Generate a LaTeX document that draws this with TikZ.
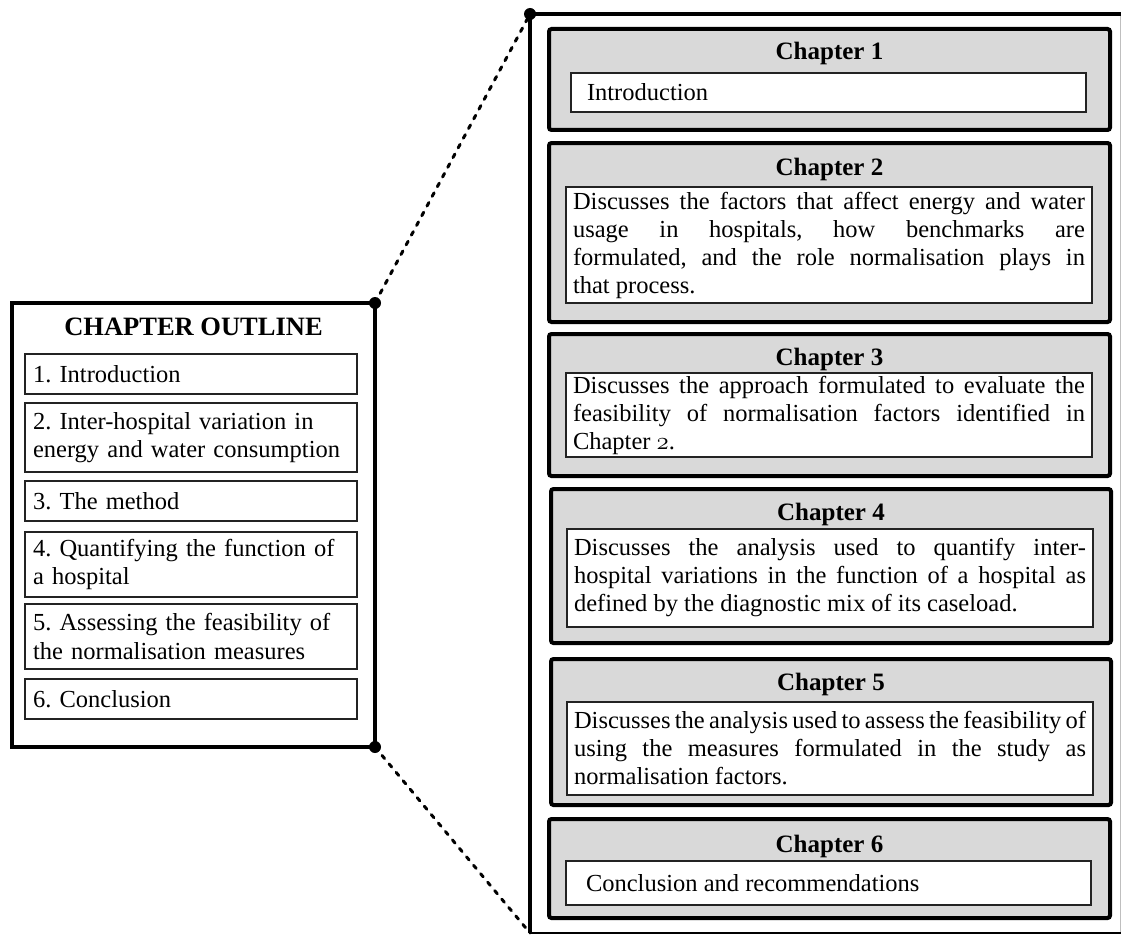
\documentclass[tikz,border=0pt]{standalone}
\usepackage{fontspec}
\setmainfont{Liberation Serif}
\definecolor{chapgray}{RGB}{217,217,217}
\definecolor{edgegray}{RGB}{35,35,35}
% old-style figure taken from the math italic font
\newcommand{\osnum}[1]{{\usefont{OML}{cmm}{m}{it}#1}}

\tikzset{
  bodyfont/.style={font=\fontsize{24.5}{28}\selectfont\frenchspacing},
  itemfont/.style={font=\fontsize{24.5}{28.5}\selectfont\frenchspacing},
  chapbox/.style={draw=black, fill=chapgray, line width=4pt, rounded corners=2.5pt,
    inner sep=0pt, outer sep=0pt},
  chaptitle/.style={font=\fontsize{25}{28}\selectfont\bfseries, anchor=base, inner sep=0pt},
  descbox/.style={draw=edgegray, fill=white, line width=1.4pt, bodyfont,
    inner ysep=0pt, outer sep=0pt, align=justify},
  itembox/.style={draw=edgegray, fill=white, line width=1.4pt, itemfont,
    inner ysep=0pt, inner xsep=8pt, text width=316pt, minimum width=332pt,
    align=left, outer sep=0pt},
  outlinebox/.style={draw=black, line width=4pt, inner sep=0pt, outer sep=0pt},
  bigdot/.style={circle, fill=black, inner sep=0pt, minimum size=12pt},
  zoomline/.style={line width=3pt, line cap=round, dash pattern=on 4pt off 7pt},
}

\begin{document}
\begin{tikzpicture}[x=1pt,y=-1pt]
\useasboundingbox (0,0) rectangle (1121,939);

% ---------- right-hand panel frame ----------
\coordinate (ptl) at (530,14);
\coordinate (ptr) at (1121,14);
\coordinate (pbl) at (530,933);
\coordinate (pbr) at (1121,933);
\coordinate (prt) at (1120,14);
\coordinate (prb) at (1120,933);
\draw[line width=1pt, black!25] (prt) -- (prb);
\draw[line width=4pt] (ptr) -- (ptl) -- (pbl);
\draw[line width=2pt] (pbl) -- (pbr);

% ---------- chapter outline (left) ----------
\node[outlinebox, minimum width=363pt, minimum height=444pt] (outline) at (193.5,525) {};
\node[font=\fontsize{26.5}{28}\selectfont\bfseries, anchor=base, inner sep=0pt]
  (otitle) at (193.5,335) {CHAPTER OUTLINE};
\node[itembox, minimum height=40pt] (l1) at (191,374) {1. Introduction};
\node[itembox, minimum height=69pt] (l2) at (191,437.5)
  {2. Inter-hospital variation in\\energy and water consumption};
\node[itembox, minimum height=40pt] (l3) at (191,501) {3. The method};
\node[itembox, minimum height=65pt] (l4) at (191,564.5)
  {4. Quantifying the function of\\a hospital};
\node[itembox, minimum height=65pt] (l5) at (191,636.5)
  {5. Assessing the feasibility of\\the normalisation measures};
\node[itembox, minimum height=40pt] (l6) at (191,699) {6. Conclusion};

% ---------- connectors ----------
\node[bigdot] (pdot) at (ptl) {};
\node[bigdot] (odotA) at (outline.north east) {};
\node[bigdot] (odotB) at (outline.south east) {};
\draw[zoomline] (odotA.center) -- (pdot.center);
\draw[zoomline] (odotB.center) -- (pbl);

% ---------- chapter 1 ----------
\node[chapbox, minimum width=561pt, minimum height=101pt] (c1) at (829.5,79.5) {};
\node[chaptitle] (t1) at (829.5,60) {Chapter 1};
\node[descbox, minimum width=515pt, text width=483pt, inner xsep=16pt, minimum height=39pt]
  (i1) at (828.5,92.5) {Introduction};

% ---------- chapter 2 ----------
\node[chapbox, minimum width=561pt, minimum height=179pt] (c2) at (829.5,232.5) {};
\node[chaptitle] (t2) at (829.5,175) {Chapter 2};
\node[descbox, minimum width=526pt, text width=512pt, inner xsep=7pt, minimum height=116pt]
  (i2) at (829,245) {Discusses the factors that affect energy and water\linebreak
  usage in hospitals, how benchmarks are\linebreak
  formulated, and the role normalisation plays in\linebreak
  that process.};

% ---------- chapter 3 ----------
\node[chapbox, minimum width=561pt, minimum height=142pt] (c3) at (829.5,405) {};
\node[chaptitle] (t3) at (829.5,365) {Chapter 3};
\node[descbox, minimum width=526pt, text width=512pt, inner xsep=7pt, minimum height=84pt]
  (i3) at (829,415) {Discusses the approach formulated to evaluate the\linebreak
  feasibility of normalisation factors identified in\linebreak
  Chapter \osnum{2}.};

% ---------- chapter 4 ----------
\node[chapbox, minimum width=560pt, minimum height=154pt] (c4) at (831,566) {};
\node[chaptitle] (t4) at (831,520) {Chapter 4};
\node[descbox, minimum width=526pt, text width=512pt, inner xsep=7pt, minimum height=98pt]
  (i4) at (830,578) {Discusses the analysis used to quantify inter-\linebreak
  hospital variations in the function of a hospital as\linebreak
  defined by the diagnostic mix of its caseload.};

% ---------- chapter 5 ----------
\node[chapbox, minimum width=560pt, minimum height=146pt] (c5) at (831,732) {};
\node[chaptitle] (t5) at (831,690) {Chapter 5};
\node[descbox, minimum width=526pt, text width=512pt, inner xsep=7pt, minimum height=93pt]
  (i5) at (830,748.5) {Discusses the analysis used to assess the feasibility of\linebreak
  using the measures formulated in the study as\linebreak
  normalisation factors.};

% ---------- chapter 6 ----------
\node[chapbox, minimum width=561pt, minimum height=99pt] (c6) at (829.5,868.5) {};
\node[chaptitle] (t6) at (829.5,852) {Chapter 6};
\node[descbox, minimum width=525pt, text width=485pt, inner xsep=20pt, minimum height=44pt]
  (i6) at (828.5,883) {Conclusion and recommendations};

\end{tikzpicture}
\end{document}
